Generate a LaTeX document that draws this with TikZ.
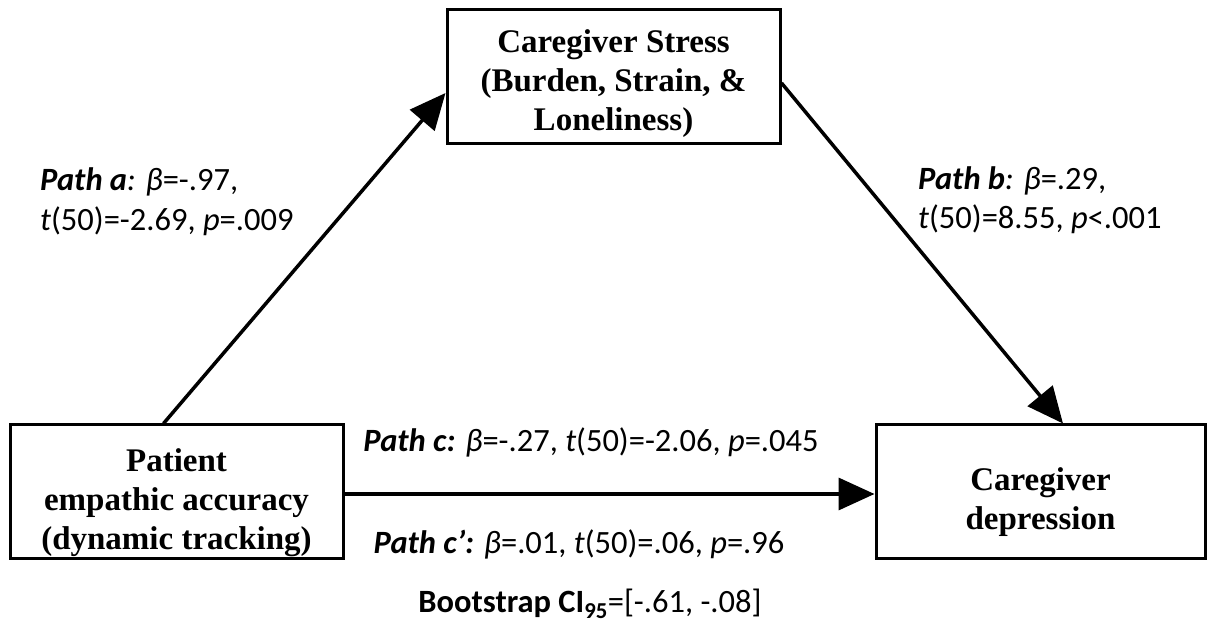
\documentclass[tikz,border=0pt]{standalone}
\usepackage{fontspec}
\setmainfont{Carlito}
\newfontfamily\tnr{Liberation Serif}
\usetikzlibrary{arrows.meta}
\begin{document}
\begin{tikzpicture}[x=1pt,y=1pt,
  box/.style={draw=black, line width=3pt, fill=white, minimum height=134pt, inner sep=0pt},
  boxtext/.style={align=center, font=\tnr\bfseries\fontsize{33}{39}\selectfont, inner sep=0pt},
  conn/.style={line width=3.5pt, -{Triangle[length=36pt,width=32pt]}},
  lab/.style={font=\fontsize{32.5}{38}\selectfont, inner sep=0pt}
]
\useasboundingbox (0,0) rectangle (1210,632);
\node[box, minimum width=333pt] (T) at (613.5,555) {};
\node[box, minimum width=333pt] (L) at (176.5,140) {};
\node[box, minimum width=329pt] (R) at (1040.5,140) {};
\node[boxtext] (Tt) at ([yshift=-7pt]T.center) {Caregiver Stress\\(Burden, Strain, \&\\Loneliness)};
\node[boxtext] (Lt) at ([yshift=-11pt]L.center) {Patient\\empathic accuracy\\(dynamic tracking)};
\node[boxtext] (Rt) at ([yshift=-10pt]R.center) {Caregiver\\depression};

\draw[conn] ([xshift=-13pt]L.north) -- ([yshift=-16pt]T.west);
\draw[conn] ([yshift=-6pt]T.east) -- ([xshift=22.5pt]R.north);
\draw[conn] ([yshift=-2pt]L.east) -- ([yshift=-2pt]R.west);

\node[lab, anchor=base west] (pa1) at (40,441) {\textbf{\textit{Path a}}\textit{: β}=-.97,};
\node[lab, anchor=base west] (pa2) at (40,401) {\textit{t}(50)=-2.69, \textit{p}=.009};
\node[lab, anchor=base west] (pb1) at (918,442) {\textbf{\textit{Path b}}\textit{: β}=.29,};
\node[lab, anchor=base west] (pb2) at (918,403) {\textit{t}(50)=8.55, \textit{p}<.001};
\node[lab, anchor=base] (pc) at (591,180) {\textbf{\textit{Path c:}} \textit{β}=-.27, \textit{t}(50)=-2.06, \textit{p}=.045};
\node[lab, anchor=base] (pcp) at (579,78) {\textbf{\textit{Path c’:}} \textit{β}=.01, \textit{t}(50)=.06, \textit{p}=.96};
\node[lab, anchor=base] (boot) at (590,20) {\textbf{Bootstrap CI\textsubscript{95}}=[-.61, -.08]};
\end{tikzpicture}
\end{document}
